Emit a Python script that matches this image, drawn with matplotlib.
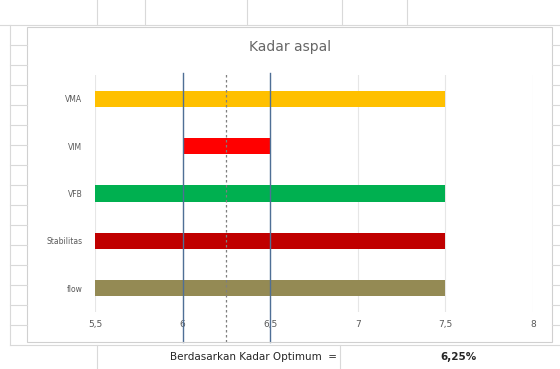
import matplotlib
matplotlib.use("Agg")
import matplotlib.pyplot as plt
from matplotlib.lines import Line2D

# data
categories = ['VMA', 'VIM', 'VFB', 'Stabilitas', 'flow']
starts = [5.5, 6.0, 5.5, 5.5, 5.5]
ends = [7.5, 6.5, 7.5, 7.5, 7.5]
colors = ['#FFC000', '#FF0000', '#00B050', '#C00000', '#948A54']
xticks = [5.5, 6, 6.5, 7, 7.5, 8]
xtick_labels = ['5,5', '6', '6,5', '7', '7,5', '8']
limit_lines = [6.0, 6.5]
optimum = 6.25

W, H = 560, 369
fig = plt.figure(figsize=(W / 100, H / 100), dpi=100)
fig.patch.set_facecolor('white')


def fx(px):
    return px / W


def fy(py):
    return 1 - py / H


grid_c = '#D9D9D9'
# spreadsheet grid behind the chart
for x in [97, 145, 247, 342, 407]:
    fig.add_artist(Line2D([fx(x), fx(x)], [fy(0), fy(25)], color=grid_c, lw=0.8))
fig.add_artist(Line2D([0, 1], [fy(25), fy(25)], color=grid_c, lw=0.8))
for y in range(45, 345, 20):
    fig.add_artist(Line2D([fx(10), fx(27)], [fy(y), fy(y)], color=grid_c, lw=0.8))
    fig.add_artist(Line2D([fx(552), fx(560)], [fy(y), fy(y)], color=grid_c, lw=0.8))
fig.add_artist(Line2D([fx(10), fx(10)], [fy(25), fy(345)], color=grid_c, lw=0.8))
fig.add_artist(Line2D([fx(10), 1], [fy(345), fy(345)], color=grid_c, lw=0.8))
fig.add_artist(Line2D([fx(97), fx(97)], [fy(345), 0], color=grid_c, lw=0.8))
fig.add_artist(Line2D([fx(340), fx(340)], [fy(345), 0], color=grid_c, lw=0.8))

# chart area border
fig.add_artist(plt.Rectangle((fx(27), fy(342)), fx(552 - 27), (342 - 27) / H,
                             fill=False, edgecolor='#D0D0D0', lw=0.8))

ax = fig.add_axes([fx(95), fy(312), fx(533 - 95), (312 - 75) / H])
ypos = list(range(len(categories)))
ax.barh(ypos, [e - s for s, e in zip(starts, ends)], left=starts,
        height=0.34, color=colors, zorder=2)
ax.set_xlim(5.5, 8)
ax.set_ylim(len(categories) - 0.5, -0.5)
ax.set_yticks(ypos)
ax.set_yticklabels(categories, fontsize=5.5, color='#595959')
ax.set_xticks(xticks)
ax.set_xticklabels(xtick_labels, fontsize=6.5, color='#595959')
ax.tick_params(length=0, pad=6)
ax.tick_params(axis='y', pad=9)
ax.grid(axis='x', color='#E6E6E6', lw=0.8, zorder=0)
for s in ax.spines.values():
    s.set_visible(False)

# limit lines and optimum line drawn over the bars
top = 1 + 2 / 237
bottom = -30 / 237
for v in limit_lines:
    ax.plot([v, v], [bottom, top], transform=ax.get_xaxis_transform(),
            color='#4F6F96', lw=1.0, zorder=3, clip_on=False)
ax.plot([optimum, optimum], [bottom, top], transform=ax.get_xaxis_transform(),
        color='#7F7F7F', lw=0.9, ls=(0, (2, 2)), zorder=3, clip_on=False)

fig.text(fx(290), fy(47), 'Kadar aspal', ha='center', va='center',
         fontsize=10, color='#666666')
fig.text(fx(170), fy(357), 'Berdasarkan Kadar Optimum  =', ha='left', va='center',
         fontsize=7.5, color='#262626')
fig.text(fx(440), fy(357), '6,25%', ha='left', va='center',
         fontsize=7.5, color='#262626', fontweight='bold')

fig.savefig('out.png', dpi=100)
